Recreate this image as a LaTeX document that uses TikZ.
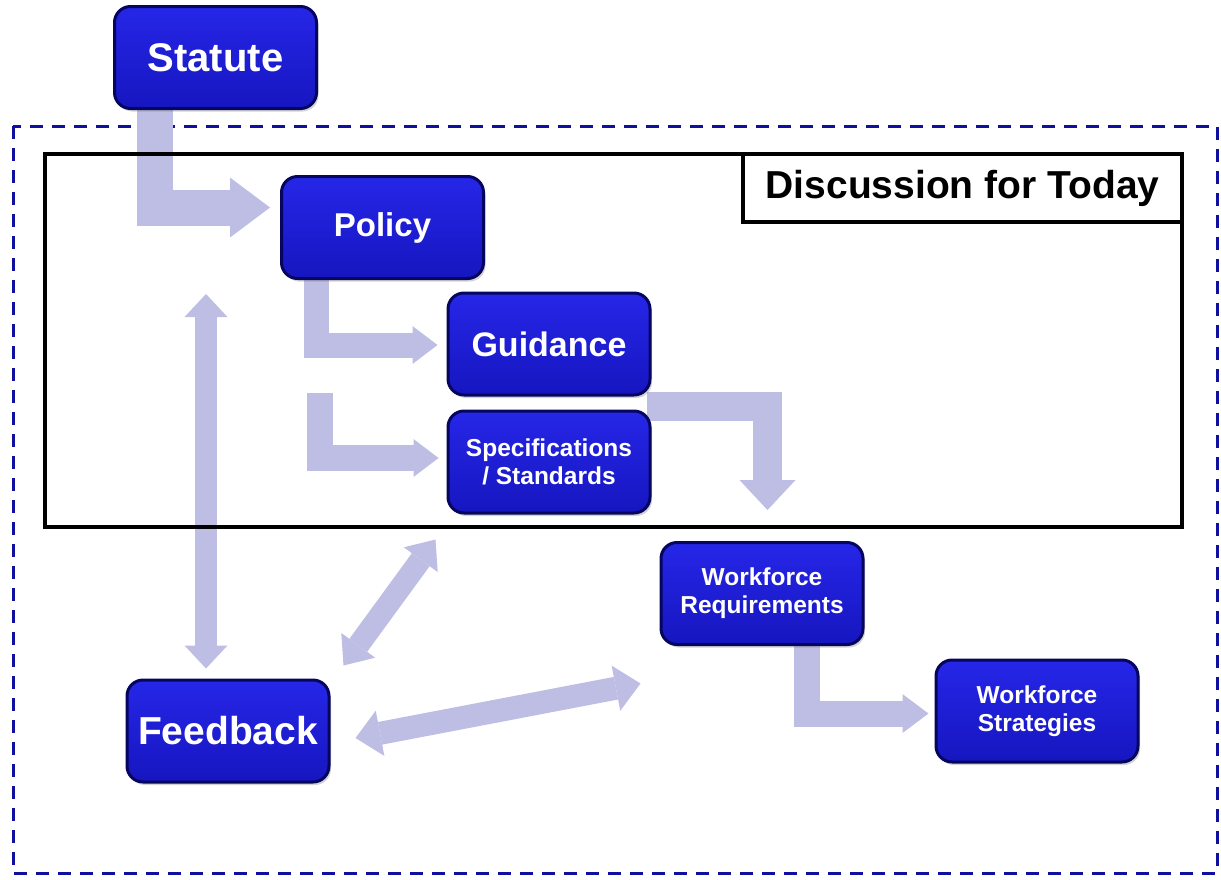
\documentclass[tikz,border=0pt]{standalone}
\usepackage{fontspec}
\setmainfont{Liberation Sans}
\usetikzlibrary{arrows.meta,calc,shadows,backgrounds}

\definecolor{boxnavy}{RGB}{6,6,95}
\definecolor{boxtop}{RGB}{38,38,232}
\definecolor{boxbot}{RGB}{22,22,192}
\definecolor{flowcol}{RGB}{190,190,228}
\definecolor{dashblue}{RGB}{15,15,160}

\tikzset{
  block/.style={rectangle, rounded corners=16pt, minimum width=202pt, minimum height=102pt,
    inner sep=0pt, draw=boxnavy, line width=3pt, top color=boxtop, bottom color=boxbot,
    text=white, align=center,
    drop shadow={shadow xshift=2pt, shadow yshift=-3pt, opacity=.35}},
  big/.style={font=\fontsize{#1}{#1}\selectfont\bfseries},
  small/.style={font=\fontsize{24.5}{28}\selectfont\bfseries},
  fat/.style={draw=flowcol, line width=#1},
}

\begin{document}
\begin{tikzpicture}[x=1pt,y=-1pt]
  \useasboundingbox (0,0) rectangle (1221,879);

  % the boxes
  \node[block, big=40] (statute) at (215.5,57.5) {Statute};
  \node[block, big=33] (policy) at (382.5,227.5) {Policy};
  \node[block, big=34] (guidance) at (549,344) {Guidance};
  \node[block, small] (specs) at (549,462) {Specifications\\/ Standards};
  \node[block, small] (wfreq) at (762,593.5) {Workforce\\Requirements};
  \node[block, small] (wfstrat) at (1037,711) {Workforce\\Strategies};
  \node[block, big=39] (feedback) at (228,731) {Feedback};

  \node[draw, line width=4.5pt, fill=white, outer sep=0pt, anchor=north east,
    minimum width=439pt, minimum height=68pt, big=39] (today) at (1182,154) {Discussion for Today};

  \coordinate (specsrc) at (319.5,393);
  \coordinate (reqin) at (767.5,510);
  \coordinate (fbtop) at (206,294);

  \begin{pgfonlayer}{background}
    \draw[dashblue, line width=3pt, dash pattern=on 13pt off 9pt] (13,126) rectangle (1217,873);

    % elbow arrows
    \draw[fat=36pt, -{Triangle[length=40pt,width=60pt,line width=0pt]}]
      ($(statute.south west)+(42,0)$) |- ($(policy.west)+(-10,-20)$);
    \draw[fat=25pt, -{Triangle[length=25pt,width=38pt,line width=0pt]}]
      ($(policy.south west)+(36.5,0)$) |- ($(guidance.west)+(-9,1)$);
    \draw[fat=26pt, -{Triangle[length=25pt,width=38pt,line width=0pt]}]
      (specsrc) |- ($(specs.west)+(-8,-4)$);
    \draw[fat=29pt, -{Triangle[length=30pt,width=56pt,line width=0pt]}]
      ($(guidance.south east)+(-5,10)$) -| (reqin);
    \draw[fat=26pt, -{Triangle[length=26pt,width=39pt,line width=0pt]}]
      ($(wfreq.south west)+(147.5,0)$) |- ($(wfstrat.west)+(-6,2.5)$);

    % feedback loops
    \draw[fat=22pt, {Triangle[length=23pt,width=43pt,line width=0pt]}-{Triangle[length=23pt,width=43pt,line width=0pt]}]
      (fbtop) -- ($(feedback.north)+(-22,-10)$);
    \draw[fat=22pt, {Triangle[length=25pt,width=42pt,line width=0pt]}-{Triangle[length=25pt,width=42pt,line width=0pt]}]
      ($(feedback.north east)+(13,-13)$) -- ($(specs.south west)+(-11,25)$);
    \draw[fat=23pt, {Triangle[length=25pt,width=46pt,line width=0pt]}-{Triangle[length=25pt,width=46pt,line width=0pt]}]
      ($(feedback.east)+(25,7)$) -- ($(wfreq.south west)+(-19,37.5)$);

    \draw[black, line width=4.5pt] (45,154) rectangle (1182,527);
  \end{pgfonlayer}
\end{tikzpicture}
\end{document}
